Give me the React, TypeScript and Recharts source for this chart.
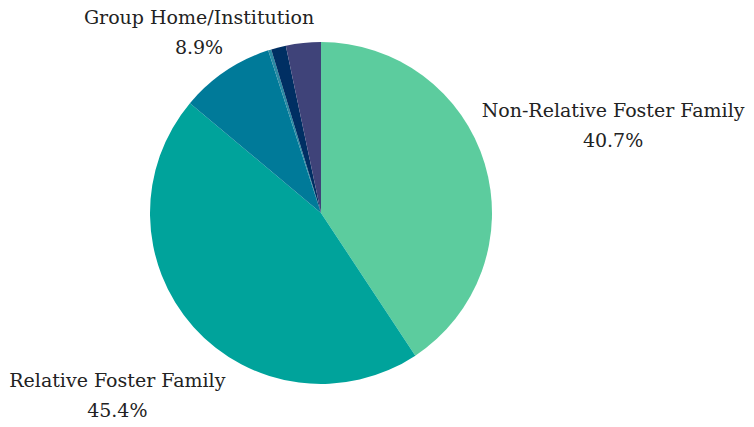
import React from 'react';
import { PieChart, Pie, Cell } from 'recharts';

const placements = [
  'Non-Relative Foster Family',
  'Relative Foster Family',
  'Group Home/Institution',
  'Runaway',
  'Independent Living',
  'Other',
];
const shares = [40.7, 45.4, 8.9, 0.3, 1.4, 3.3];
const sliceColors = ['#5ccc9e', '#00a39b', '#007a99', '#2b8aa3', '#002f63', '#3f4379'];

// labelled slices only, distance of label centre from pie centre
const labelDistance: Record<string, number> = {
  'Non-Relative Foster Family': 305,
  'Relative Foster Family': 273,
  'Group Home/Institution': 218,
};

const data = placements.map((name, i) => ({ name, value: shares[i] }));

const RAD = Math.PI / 180;
const FONT = 'DejaVu Serif';

function renderLabel(props: any) {
  const { cx, cy, midAngle, name, value } = props;
  const r = labelDistance[name];
  if (!r) return null;
  const x = cx + r * Math.cos(-midAngle * RAD);
  const y = cy + r * Math.sin(-midAngle * RAD);
  return (
    <g key={name}>
      <text x={x} y={y - 8} textAnchor="middle" fill="#222" fontSize={19} fontFamily={FONT}>
        {name}
      </text>
      <text x={x} y={y + 22} textAnchor="middle" fill="#222" fontSize={19} fontFamily={FONT}>
        {value.toFixed(1)}%
      </text>
    </g>
  );
}

export default function App() {
  return (
    <div style={{ margin: -8, width: 754, height: 427, background: '#fff', fontFamily: FONT }}>
      <PieChart width={754} height={427} margin={{ top: 0, right: 0, bottom: 0, left: 0 }}>
        <Pie
          data={data}
          dataKey="value"
          nameKey="name"
          cx={321}
          cy={213}
          outerRadius={171}
          startAngle={90}
          endAngle={-270}
          stroke="none"
          label={renderLabel}
          labelLine={false}
          isAnimationActive={false}
        >
          {data.map((d, i) => (
            <Cell key={d.name} fill={sliceColors[i]} />
          ))}
        </Pie>
      </PieChart>
    </div>
  );
}
